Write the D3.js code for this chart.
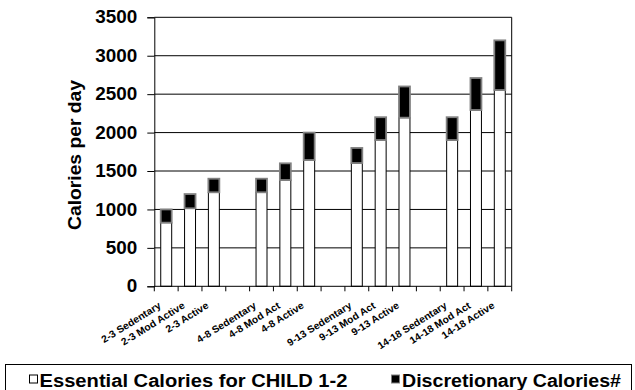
<!DOCTYPE html>
<html><head><meta charset="utf-8">
<script src="https://cdn.jsdelivr.net/npm/d3@7"></script>
<style>body{margin:0;background:#fff}svg{display:block;font-family:"Liberation Sans",Arial,sans-serif}</style>
</head><body><svg id="c" width="635" height="390"></svg>
<script>
const categories = ["2-3 Sedentary","2-3 Mod Active","2-3 Active","","4-8 Sedentary","4-8 Mod Act","4-8 Active","","9-13 Sedentary","9-13 Mod Act","9-13 Active","","14-18 Sedentary","14-18 Mod Act","14-18 Active"];
const essential = [828,1015,1223,null,1223,1383,1643,null,1604,1903,2194,null,1903,2294,2554];
const discretionary = [172,185,177,null,177,217,357,null,196,297,406,null,297,416,646];
const yTicks = [0,500,1000,1500,2000,2500,3000,3500];
const seriesNames = ["Essential Calories for CHILD 1-2","Discretionary Calories#"];

const svg = d3.select("#c");
const L=154.3, R=511.7, T=17.3, B=286.3;
const x = d3.scaleBand().domain(categories.map((d,i)=>i)).range([L,R]).padding(0);
const y = d3.scaleLinear().domain([0,3500]).range([B,T]);

svg.append("g").selectAll("line").data(yTicks.filter(d=>d>0)).join("line")
  .attr("x1",L).attr("x2",R).attr("y1",d=>y(d)).attr("y2",d=>y(d))
  .attr("stroke","#000").attr("stroke-width",1);
svg.append("line").attr("x1",R).attr("x2",R).attr("y1",T).attr("y2",B).attr("stroke","#000");

const bw = x.bandwidth()*0.46;
const idx = categories.map((d,i)=>i).filter(i=>essential[i]!=null);
svg.append("g").selectAll("rect").data(idx).join("rect")
  .attr("x",i=>x(i)+x.bandwidth()/2-bw/2).attr("width",bw)
  .attr("y",i=>y(essential[i])).attr("height",i=>B-y(essential[i]))
  .attr("fill","#fff").attr("stroke","#000").attr("stroke-width",1);
svg.append("g").selectAll("rect").data(idx).join("rect")
  .attr("x",i=>x(i)+x.bandwidth()/2-bw/2).attr("width",bw)
  .attr("y",i=>y(essential[i]+discretionary[i])).attr("height",i=>y(essential[i])-y(essential[i]+discretionary[i]))
  .attr("fill","#000").attr("stroke","#808080").attr("stroke-width",1.8);

const ya = svg.append("g").attr("transform",`translate(${L},0)`)
  .call(d3.axisLeft(y).tickValues(yTicks).tickSize(7).tickPadding(10).tickFormat(d3.format("d")));
ya.select(".domain").attr("stroke","#000");
ya.selectAll(".tick line").attr("stroke","#000");
const yt = ya.selectAll("text").attr("font-size",17.5).attr("font-weight","bold").attr("fill","#000")
  .attr("font-family","Liberation Sans, Arial, sans-serif");
const w4 = yt.filter(d=>d===3500).node().getComputedTextLength();
const ys = 42/w4;
yt.each(function(){ const w=this.getComputedTextLength(); d3.select(this).attr("textLength",w*ys).attr("lengthAdjust","spacingAndGlyphs"); });

const xb = d3.range(categories.length+1).map(i=>L+i*x.bandwidth());
svg.append("line").attr("x1",L).attr("x2",R).attr("y1",B).attr("y2",B).attr("stroke","#000");
svg.append("g").selectAll("line").data(xb).join("line")
  .attr("x1",d=>d).attr("x2",d=>d).attr("y1",B).attr("y2",B+5).attr("stroke","#000");
const xl = svg.append("g").selectAll("text").data(idx).join("text")
  .attr("transform",i=>`translate(${x(i)+x.bandwidth()/2-4.5},${B+21}) rotate(-32)`)
  .attr("text-anchor","end").attr("font-size",10).attr("font-weight","bold")
  .text(i=>categories[i]);
const w0 = xl.filter(i=>i===0).node().getComputedTextLength();
const xs = 68/w0;
xl.each(function(){ const w=this.getComputedTextLength(); d3.select(this).attr("textLength",w*xs).attr("lengthAdjust","spacingAndGlyphs"); });

svg.append("text").attr("transform","translate(81,155) rotate(-90)")
  .attr("text-anchor","middle").attr("font-size",18).attr("font-weight","bold")
  .attr("textLength",150).attr("lengthAdjust","spacingAndGlyphs")
  .text("Calories per day");

svg.append("rect").attr("x",5.5).attr("y",364.5).attr("width",626).attr("height",40)
  .attr("fill","none").attr("stroke","#000");
svg.append("rect").attr("x",29.5).attr("y",375).attr("width",8).attr("height",8)
  .attr("fill","#fff").attr("stroke","#000");
svg.append("text").attr("x",39.5).attr("y",386.5).attr("font-size",18).attr("font-weight","bold")
  .attr("textLength",308).attr("lengthAdjust","spacingAndGlyphs").text(seriesNames[0]);
svg.append("rect").attr("x",391.5).attr("y",375).attr("width",8).attr("height",8)
  .attr("fill","#000").attr("stroke","#808080");
svg.append("text").attr("x",402).attr("y",386.5).attr("font-size",18).attr("font-weight","bold")
  .attr("textLength",219).attr("lengthAdjust","spacingAndGlyphs").text(seriesNames[1]);
</script></body></html>
